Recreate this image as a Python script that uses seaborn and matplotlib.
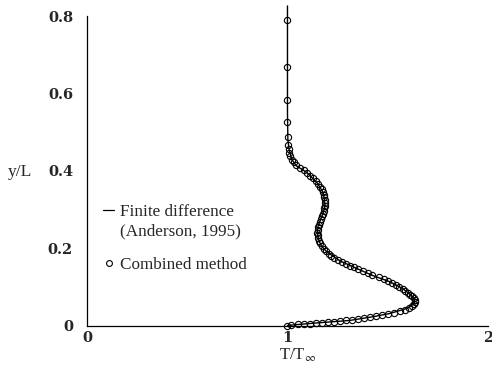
import matplotlib
matplotlib.use("Agg")
import matplotlib.pyplot as plt
import seaborn as sns
import pandas as pd
from matplotlib.lines import Line2D

# ---- data ----
# Finite difference (Anderson, 1995): temperature ratio vs height
fd_y = [0.0, 0.003, 0.008, 0.013, 0.023, 0.031, 0.044, 0.055, 0.062, 0.070, 0.080,
        0.095, 0.113, 0.129, 0.147, 0.167, 0.190, 0.205, 0.216, 0.230, 0.242, 0.257,
        0.283, 0.300, 0.312, 0.327, 0.345, 0.370, 0.396, 0.412, 0.430, 0.455, 0.480,
        0.550, 0.650, 0.826]
fd_T = [1.0, 1.06, 1.18, 1.31, 1.43, 1.51, 1.595, 1.628, 1.636, 1.63, 1.612,
        1.576, 1.511, 1.426, 1.347, 1.262, 1.197, 1.170, 1.160, 1.151, 1.149, 1.153,
        1.172, 1.183, 1.187, 1.184, 1.177, 1.146, 1.096, 1.046, 1.020, 1.008, 1.002,
        1.0, 1.0, 1.0]

# Combined method: marker points
cm_y = [0.000, 0.002, 0.003, 0.004, 0.005, 0.006, 0.007, 0.008, 0.010, 0.011,
        0.013, 0.015, 0.017, 0.019, 0.021, 0.024, 0.027, 0.030, 0.033, 0.037,
        0.041, 0.045, 0.050, 0.055, 0.060, 0.065, 0.070, 0.075, 0.080, 0.085,
        0.090, 0.095, 0.100, 0.105, 0.110, 0.115, 0.120, 0.125, 0.130, 0.135,
        0.140, 0.145, 0.150, 0.155, 0.160, 0.165, 0.170, 0.175, 0.180, 0.186,
        0.192, 0.198, 0.205, 0.212, 0.219, 0.226, 0.233, 0.240, 0.247, 0.254,
        0.261, 0.268, 0.275, 0.282, 0.289, 0.296, 0.303, 0.310, 0.317, 0.324,
        0.331, 0.338, 0.345, 0.352, 0.359, 0.366, 0.373, 0.380, 0.387, 0.394,
        0.401, 0.408, 0.415, 0.422, 0.429, 0.437, 0.446, 0.456, 0.467, 0.486,
        0.525, 0.584, 0.669, 0.790]
cm_T = [1.00, 1.02, 1.05, 1.08, 1.11, 1.14, 1.17, 1.20, 1.23, 1.26,
        1.29, 1.32, 1.35, 1.38, 1.41, 1.44, 1.47, 1.50, 1.53, 1.56,
        1.585, 1.605, 1.62, 1.632, 1.637, 1.636, 1.630, 1.622, 1.612, 1.600,
        1.588, 1.574, 1.558, 1.540, 1.522, 1.503, 1.483, 1.455, 1.424, 1.400,
        1.376, 1.353, 1.332, 1.310, 1.290, 1.270, 1.250, 1.233, 1.218, 1.205,
        1.193, 1.181, 1.170, 1.162, 1.156, 1.152, 1.150, 1.149, 1.150, 1.152,
        1.156, 1.161, 1.167, 1.172, 1.177, 1.181, 1.184, 1.186, 1.187, 1.186,
        1.184, 1.181, 1.177, 1.170, 1.162, 1.152, 1.140, 1.125, 1.110, 1.096,
        1.080, 1.062, 1.045, 1.032, 1.022, 1.015, 1.010, 1.006, 1.003, 1.001,
        1.0, 1.0, 1.0, 1.0]

x_ticks = [0, 1, 2]
x_ticklabels = ["0", "1", "2"]
y_ticks = [0, 0.2, 0.4, 0.6, 0.8]
y_ticklabels = ["0", "0.2", "0.4", "0.6", "0.8"]

fd = pd.DataFrame({"T": fd_T, "y": fd_y})
cm = pd.DataFrame({"T": cm_T, "y": cm_y})

sns.set_theme(style="white")
plt.rcParams["font.family"] = ["Liberation Serif", "DejaVu Serif"]
plt.rcParams["mathtext.fontset"] = "stix"

fig = plt.figure(figsize=(4.92, 3.76), dpi=100)
ax = fig.add_axes([0.1768, 0.1343, 0.815, 0.854])

sns.lineplot(data=fd, x="T", y="y", sort=False, estimator=None, color="black",
             linewidth=1.0, ax=ax, clip_on=False)
ax.plot(cm["T"], cm["y"], linestyle="none", marker="o", markersize=4.5,
        markerfacecolor="none", markeredgecolor="black", markeredgewidth=0.8,
        clip_on=False)

ax.set_xlim(0, 2)
ax.set_ylim(0, 0.83)
ax.spines["top"].set_visible(False)
ax.spines["right"].set_visible(False)
ax.spines["left"].set_bounds(0, 0.8)
for s in ("left", "bottom"):
    ax.spines[s].set_color("black")
    ax.spines[s].set_linewidth(0.9)

tick_font = dict(family="DejaVu Serif", weight="bold", size=10.5)
ax.set_xticks(x_ticks)
ax.set_xticklabels(x_ticklabels, fontdict=tick_font)
ax.set_yticks(y_ticks)
ax.set_yticklabels(y_ticklabels, fontdict=tick_font)
ax.tick_params(axis="both", direction="in", length=4, width=0.8, color="black")
ax.tick_params(axis="y", pad=10)
ax.tick_params(axis="x", pad=4)

ax.set_xlabel(r"T/T$_{\infty}$", fontsize=12)
ax.xaxis.set_label_coords(0.524, -0.067)
ax.set_ylabel("y/L", fontsize=12.5, rotation=0, va="center", ha="center")
ax.yaxis.set_label_coords(-0.167, 0.478)

# legend: line entry (two text lines) and marker entry
line_h = Line2D([], [], color="black", linewidth=0.9)
blank_h = Line2D([], [], color="none", linewidth=0)
mark_h = Line2D([], [], linestyle="none", marker="o", markersize=4.2,
                markerfacecolor="none", markeredgecolor="black", markeredgewidth=0.8)

leg1 = ax.legend([line_h, blank_h], ["Finite difference", "(Anderson, 1995)"],
                 loc="upper left", bbox_to_anchor=(0.041, 0.377), frameon=False,
                 fontsize=12.3, handlelength=0.6, handletextpad=0.35,
                 labelspacing=0.2, borderaxespad=0, borderpad=0)
ax.add_artist(leg1)
leg2 = ax.legend([mark_h], ["Combined method"], loc="center left",
                 bbox_to_anchor=(0.041, 0.188), frameon=False, fontsize=12.3,
                 handlelength=0.6, handletextpad=0.35, borderaxespad=0, borderpad=0)

fig.savefig("out.png", dpi=100)
